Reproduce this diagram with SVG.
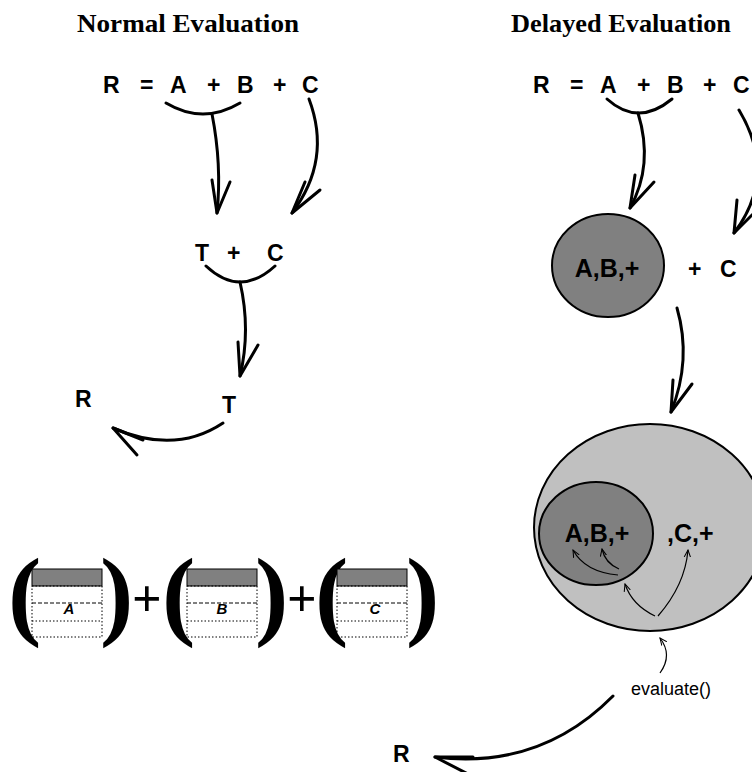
<svg xmlns="http://www.w3.org/2000/svg" width="752" height="772" viewBox="0 0 752 772">
  <style>
    .title { font-family: "Liberation Serif", "Times New Roman", serif; font-weight: bold; font-size: 25px; fill: #000; text-anchor: middle; }
    .sym { font-family: "Liberation Sans", Arial, sans-serif; font-weight: bold; font-size: 23px; fill: #000; }
    .blob { font-family: "Liberation Sans", Arial, sans-serif; font-weight: bold; font-size: 25px; fill: #000; }
    .call { font-family: "Liberation Sans", Arial, sans-serif; font-size: 18px; fill: #000; }
    .paren { font-family: "Liberation Serif", "Times New Roman", serif; font-weight: bold; font-size: 100px; fill: #000; }
    .plus { font-family: "Liberation Serif", "Times New Roman", serif; font-weight: bold; font-size: 52px; fill: #000; }
    .cell { font-family: "Liberation Sans", Arial, sans-serif; font-weight: bold; font-style: italic; font-size: 15px; fill: #000; text-anchor: middle; }
    .flow { fill: none; stroke: #000; stroke-width: 3; stroke-linecap: round; stroke-linejoin: round; }
    .thin { fill: none; stroke: #000; stroke-width: 1.2; marker-end: url(#tip); }
    .hdr { fill: #808080; stroke: #000; stroke-width: 1; }
    .slot { fill: none; stroke: #000; stroke-width: 1; stroke-dasharray: 1.5 2; }
    .slotdash { fill: none; stroke: #000; stroke-width: 1; stroke-dasharray: 4 2; }
  </style>
  <defs>
    <marker id="tip" viewBox="0 0 10 10" refX="9" refY="5" markerWidth="8" markerHeight="8" markerUnits="userSpaceOnUse" orient="auto">
      <path d="M0,1 L9,5 L0,9" fill="none" stroke="#000" stroke-width="1.3"/>
    </marker>
  </defs>

  <rect width="752" height="772" fill="#fff"/>

  <!-- column headings -->
  <text class="title" x="188" y="32" textLength="222" lengthAdjust="spacingAndGlyphs">Normal Evaluation</text>
  <text class="title" x="621" y="32" textLength="220" lengthAdjust="spacingAndGlyphs">Delayed Evaluation</text>

  <!-- ===== normal evaluation ===== -->
  <g id="expr-normal">
    <text class="sym" y="93" x="103 125 140 160 170 190 207 225 237 258 273 290 302">R = A + B + C</text>
  </g>
  <g id="temp-sum">
    <text class="sym" y="261" x="195 212 227 250 267">T + C</text>
  </g>
  <g id="result-normal">
    <text class="sym" x="75" y="407">R</text>
  </g>
  <g id="temp-final">
    <text class="sym" x="222" y="413">T</text>
  </g>

  <!-- ===== delayed evaluation ===== -->
  <g id="expr-delayed">
    <text class="sym" y="93" x="533 555 570 590 600 620 637 655 667 688 703 720 733">R = A + B + C</text>
  </g>
  <g id="closure-ab">
    <ellipse cx="608" cy="265.5" rx="56" ry="51.5" fill="#808080" stroke="#000" stroke-width="2"/>
    <text class="blob" x="607" y="277" text-anchor="middle">A,B,+</text>
  </g>
  <g id="pending-c">
    <text class="sym" y="277" x="688 706 720">+ C</text>
  </g>
  <g id="closure-abc">
    <ellipse cx="650" cy="527.5" rx="116" ry="103.5" fill="#c0c0c0" stroke="#000" stroke-width="2"/>
    <ellipse cx="596" cy="533.5" rx="57" ry="51.5" fill="#808080" stroke="#000" stroke-width="2"/>
    <text class="blob" x="597" y="542" text-anchor="middle">A,B,+</text>
    <text class="blob" x="667" y="542">,C,+</text>
  </g>
  <g id="evaluate-call">
    <text class="call" x="631" y="695">evaluate()</text>
  </g>
  <g id="result-delayed">
    <text class="sym" x="393" y="762">R</text>
  </g>

  <!-- ===== operand layout: (A)+(B)+(C) ===== -->
  <g id="operand-a">
    <text class="paren" x="8" y="627">(</text>
    <rect class="hdr" x="32" y="569" width="70" height="17"/>
    <rect class="slot" x="32" y="586" width="70" height="51"/>
    <line class="slotdash" x1="32" y1="603" x2="102" y2="603"/>
    <line class="slot" x1="32" y1="621" x2="102" y2="621"/>
    <text class="cell" x="69" y="614">A</text>
    <text class="paren" x="100" y="627">)</text>
  </g>
  <g id="plus-1">
    <text class="plus" x="132" y="616">+</text>
  </g>
  <g id="operand-b">
    <text class="paren" x="162" y="627">(</text>
    <rect class="hdr" x="187" y="569" width="70" height="17"/>
    <rect class="slot" x="187" y="586" width="70" height="51"/>
    <line class="slotdash" x1="187" y1="603" x2="257" y2="603"/>
    <line class="slot" x1="187" y1="621" x2="257" y2="621"/>
    <text class="cell" x="222" y="614">B</text>
    <text class="paren" x="255" y="627">)</text>
  </g>
  <g id="plus-2">
    <text class="plus" x="287" y="616">+</text>
  </g>
  <g id="operand-c">
    <text class="paren" x="315" y="627">(</text>
    <rect class="hdr" x="337" y="569" width="70" height="17"/>
    <rect class="slot" x="337" y="586" width="70" height="51"/>
    <line class="slotdash" x1="337" y1="603" x2="407" y2="603"/>
    <line class="slot" x1="337" y1="621" x2="407" y2="621"/>
    <text class="cell" x="375" y="614">C</text>
    <text class="paren" x="406" y="627">)</text>
  </g>

  <!-- connectors -->
  <g id="connectors">
    <!-- normal: A+B grouped, then T+C, then assigned to R -->
    <path class="flow" d="M166,103 Q203,125 240,103"/>
    <path class="flow" d="M212,114 Q222,165 217,213"/>
    <path class="flow" d="M212,180 L217,213 L230,182"/>
    <path class="flow" d="M309,99 Q332,160 292,213"/>
    <path class="flow" d="M305,182 L292,213 L320,190"/>
    <path class="flow" d="M206,266 Q240,298 275,266"/>
    <path class="flow" d="M240,282 Q251,330 240,376"/>
    <path class="flow" d="M238,342 L240,376 L258,345"/>
    <path class="flow" d="M223,423 Q175,455 113,428"/>
    <path class="flow" d="M143,440 L113,428 L137,455"/>

    <!-- delayed: operands wrapped into closures -->
    <path class="flow" d="M607,99 Q638,127 672,99"/>
    <path class="flow" d="M638,113 Q654,165 630,208"/>
    <path class="flow" d="M635,175 L630,208 L654,182"/>
    <path class="flow" d="M739,110 Q778,175 734,233"/>
    <path class="flow" d="M737,200 L734,233 L762,205"/>
    <path class="flow" d="M677,308 Q692,360 671,412"/>
    <path class="flow" d="M673,380 L671,412 L692,384"/>
    <path class="flow" d="M613,696 Q540,770 435,757"/>
    <path class="flow" d="M473,757 L435,757 L468,774"/>

    <!-- evaluate() walks the nested closures -->
    <path class="thin" d="M618,575 Q585,572 573,550"/>
    <path class="thin" d="M619,569 Q605,563 602,549"/>
    <path class="thin" d="M655,616 Q632,605 625,584"/>
    <path class="thin" d="M658,616 Q685,585 688,550"/>
    <path class="thin" d="M660,673 Q673,655 660,638"/>
  </g>
</svg>
